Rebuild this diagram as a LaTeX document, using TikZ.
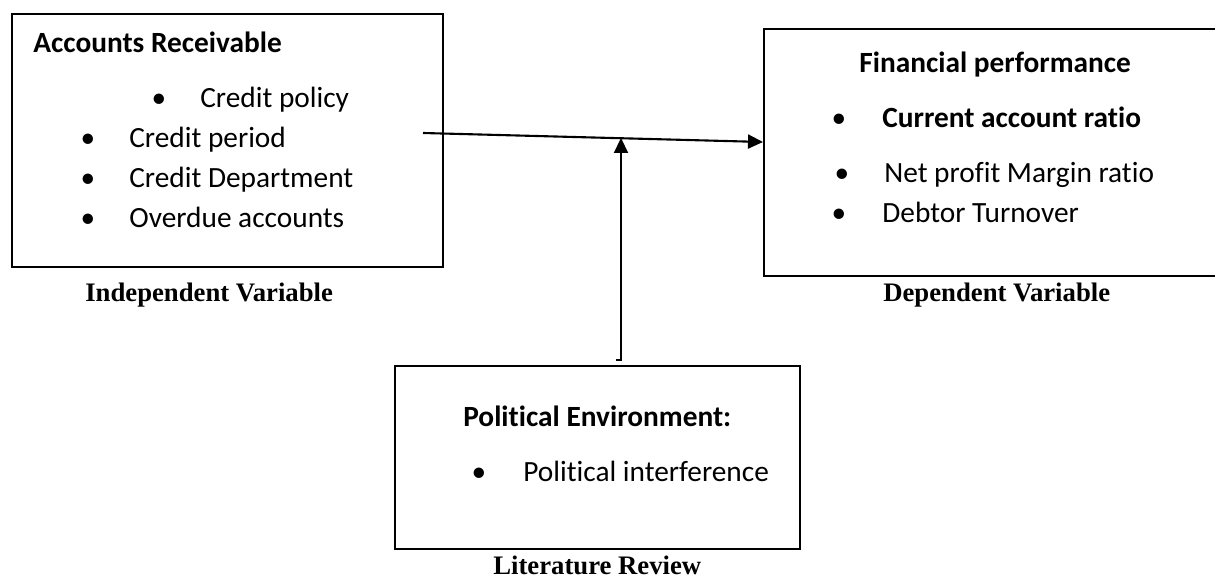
\documentclass[tikz,border=0pt]{standalone}
\usepackage{fontspec}
\usepackage{tikz}
\usetikzlibrary{arrows.meta}
\setmainfont[Ligatures=NoCommon]{Carlito}
\newfontfamily\capfont{Liberation Serif}

\tikzset{
  box/.style={draw, line width=1.2pt, anchor=north west, inner sep=0pt},
  txt/.style={anchor=base west, inner sep=0pt, font=\fontsize{16.7}{20}\selectfont},
  head/.style={txt, font=\fontsize{16.7}{20}\selectfont\bfseries},
  bul/.style={anchor=base, inner sep=0pt, font=\fontsize{16.7}{20}\selectfont},
  capt/.style={anchor=base west, inner sep=0pt, font=\fontsize{15.2}{18}\capfont\bfseries},
  arr/.style={line width=1.2pt, -{Triangle[length=0.3cm, width=0.28cm]}}
}

\begin{document}
\begin{tikzpicture}[x=0.02cm, y=-0.02cm]
    \useasboundingbox (0,0) rectangle (1215,580);
    % Cadres
    \node[box, minimum width=431*0.02cm, minimum height=253*0.02cm] (arbox) at (11,13) {}; % Gauche
    \node[box, minimum width=470*0.02cm, minimum height=247*0.02cm] (fpbox) at (763,28) {}; % Droit
    \node[box, minimum width=405*0.02cm, minimum height=183*0.02cm] (pebox) at (394,365) {}; % Bas
    % Accounts receivable
    \node[head] (arhead) at (33,53) {Accounts Receivable};
    \node[bul] (arb1) at (159,108) {•};
    \node[txt] (ar1) at (200,108) {Credit policy};
    \node[bul] (arb2) at (88,148) {•};
    \node[txt] (ar2) at (129,148) {Credit period};
    \node[bul] (arb3) at (88,188) {•};
    \node[txt] (ar3) at (129,188) {Credit Department};
    \node[bul] (arb4) at (88,228) {•};
    \node[txt] (ar4) at (129,228) {Overdue accounts};
    \node[capt] (arcapt) at (85,302) {Independent Variable};
    % Financial performance
    \node[head] (fphead) at (859,73) {Financial performance};
    \node[bul] (fpb1) at (839,128) {•};
    \node[head] (fp1) at (882,128) {Current account ratio};
    \node[bul] (fpb2) at (842,183) {•};
    \node[txt] (fp2) at (884,183) {Net profit Margin ratio};
    \node[bul] (fpb3) at (839,223) {•};
    \node[txt] (fp3) at (882,223) {Debtor Turnover};
    \node[capt] (fpcapt) at (883,302) {Dependent Variable};
    % Political environment
    \node[head] (pehead) at (463,427) {Political Environment:};
    \node[bul] (peb1) at (479,482) {•};
    \node[txt] (pe1) at (523,482) {Political interference};
    \node[capt] (pecapt) at (493,575) {Literature Review};
    % Fleches
    \coordinate (src) at (423,133);
    \coordinate (tgt) at (0,142);
    \coordinate (meet) at (621,138);
    \coordinate (hook) at (616,360);
    \draw[arr] (src) -- (fpbox.west |- tgt); % AR -> FP
    \draw[arr] (hook) -- ++(5,0) -- (meet); % PE -> lien
\end{tikzpicture}
\end{document}
